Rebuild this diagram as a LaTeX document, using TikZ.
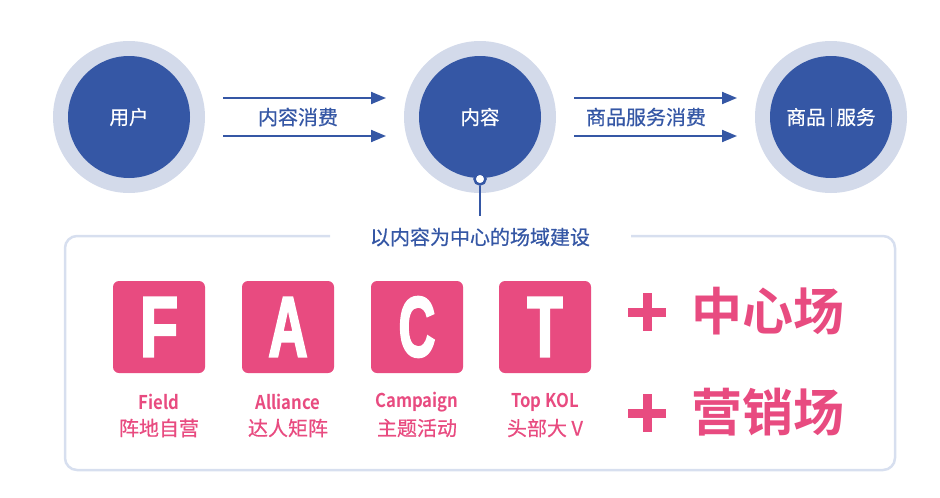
\documentclass[tikz,border=0pt]{standalone}
\usepackage{fontspec}
\usetikzlibrary{arrows.meta,calc}
\newfontfamily\cjk{Noto Sans CJK SC}
\newfontfamily\cjkm[FakeBold=0.6]{Noto Sans CJK SC}
\newfontfamily\cjkb{Noto Sans CJK SC Bold}
\newfontfamily\latb[FakeBold=3]{Liberation Sans Bold}
\definecolor{cblue}{HTML}{3557A5}
\definecolor{ring}{HTML}{D3DAEA}
\definecolor{frame}{HTML}{D7DFEF}
\definecolor{pink}{HTML}{E84B80}
\tikzset{
  outer/.style={circle,fill=ring,minimum size=152pt,inner sep=0},
  inner/.style={circle,fill=cblue,minimum size=122pt,inner sep=0,text=white,font=\cjkm\fontsize{19.5}{20}\selectfont},
  flow/.style={cblue,line width=2pt,-{Triangle[length=15pt,width=12pt]}},
  flowlabel/.style={text=cblue,font=\cjkm\fontsize{20}{22}\selectfont},
  letterbox/.style={fill=pink,rounded corners=6pt,minimum size=92pt,inner sep=0,text=white,
    font=\latb\fontsize{85}{85}\selectfont},
  en/.style={text=pink,font=\cjkb\fontsize{19}{20}\selectfont},
  zh/.style={text=pink,font=\cjkm\fontsize{20}{22}\selectfont},
  big/.style={text=pink,font=\cjkb\fontsize{51}{52}\selectfont}
}
\begin{document}
\begin{tikzpicture}[x=1pt,y=-1pt]
\useasboundingbox (0,0) rectangle (940,498);
% circles
\node[outer] (uo) at (129,117) {};
\node[inner] (u) at (129,117) {用户};
\node[outer] (co) at (480,117) {};
\node[inner] (c) at (480,117) {内容};
\node[outer] (go) at (831,117) {};
\node[inner] (g) at (831,117) {商品\hspace{5pt}\textcolor{white!80!cblue}{\rule[-2pt]{1pt}{19pt}}\hspace{5pt}服务};
% arrows
\coordinate (a1s) at (223,98); \coordinate (a1e) at (386,98);
\coordinate (a2s) at (223,136); \coordinate (a2e) at (386,136);
\coordinate (b1s) at (574,98); \coordinate (b1e) at (737,98);
\coordinate (b2s) at (574,136); \coordinate (b2e) at (737,136);
\draw[flow] (a1s) -- (a1e);
\draw[flow] (a2s) -- (a2e);
\draw[flow] (b1s) -- (b1e);
\draw[flow] (b2s) -- (b2e);
\node[flowlabel] (l1) at (298,117) {内容消费};
\node[flowlabel] (l2) at (646,117) {商品服务消费};
% frame
\draw[frame,line width=2.5pt,rounded corners=12pt] (330,236) -- (65,236) -- (65,470) -- (895,470) -- (895,236) -- (631,236);
\node[flowlabel] (title) at (480,237) {以内容为中心的场域建设};
% dot and stem
\node[circle,fill=white,draw=cblue,line width=2.5pt,minimum size=11pt,inner sep=0] (dot) at (480,179) {};
\coordinate (stem) at (480,216);
\draw[cblue,line width=2pt] (dot.south) -- (stem);
% letter boxes
\node[letterbox] (F) at (159,327) {\scalebox{0.74}[1]{F}};
\node[letterbox] (A) at (288,327) {\scalebox{0.64}[1]{A}};
\node[letterbox] (C) at (417,327) {\scalebox{0.6}[1]{C}};
\node[letterbox] (T) at (545,327) {\scalebox{0.68}[1]{T}};
\node[en] (Fe) at (159,402) {\scalebox{0.88}[1]{Field}};
\node[zh] (Fz) at (159,428) {阵地自营};
\node[en] (Ae) at (288,402) {\scalebox{0.88}[1]{Alliance}};
\node[zh] (Az) at (288,428) {达人矩阵};
\node[en] (Ce) at (417,402) {\scalebox{0.88}[1]{Campaign}};
\node[zh] (Cz) at (417,428) {主题活动};
\node[en] (Te) at (545,402) {\scalebox{0.88}[1]{Top KOL}};
\node[zh] (Tz) at (545,428) {头部大 V};
% plus signs
\fill[pink] (628,307.5) rectangle (666,316.5);
\fill[pink] (642.5,293) rectangle (651.5,331);
\fill[pink] (628,408.5) rectangle (666,417.5);
\fill[pink] (642.5,394) rectangle (651.5,432);
\node[big,anchor=west] (m1) at (688,311) {中心场};
\node[big,anchor=west] (m2) at (688,412) {营销场};
\end{tikzpicture}
\end{document}
